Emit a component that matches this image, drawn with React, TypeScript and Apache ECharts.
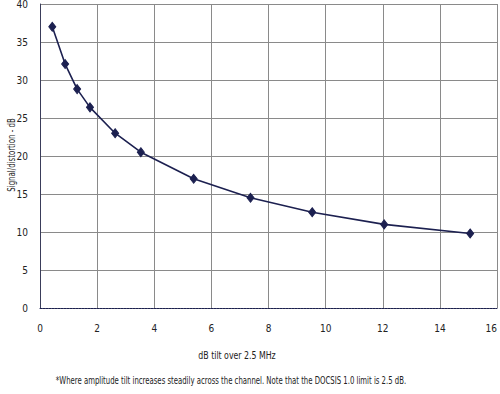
import React, { useEffect, useRef } from "react";
import * as echarts from "echarts";

const tiltDb = [0.43, 0.88, 1.3, 1.75, 2.63, 3.53, 5.38, 7.37, 9.53, 12.05, 15.06];
const signalDistortionDb = [37.0, 32.1, 28.8, 26.4, 23.0, 20.5, 17.0, 14.5, 12.6, 11.0, 9.8];
const yTicks = [0, 5, 10, 15, 20, 25, 30, 35, 40];
const xAxisTitle = "dB tilt over 2.5 MHz";
const yAxisTitle = "Signal/distortion - dB";
const footnote = "*Where amplitude tilt increases steadily across the channel. Note that the DOCSIS 1.0 limit is 2.5 dB.";

const FONT = "'Liberation Sans Narrow', 'DejaVu Sans Condensed', sans-serif";

export default function App() {
  const ref = useRef<HTMLDivElement>(null);
  useEffect(() => {
    if (!ref.current) return;
    const chart = echarts.init(ref.current, undefined, { renderer: "svg" });
    const data = tiltDb.map((x, i) => [x, signalDistortionDb[i]]);
    chart.setOption({
      animation: false,
      backgroundColor: "#ffffff",
      grid: { left: 40, right: 3, top: 4, bottom: 86, containLabel: false, outerBoundsMode: "none" },
      xAxis: {
        type: "value",
        min: 0,
        max: 16,
        interval: 2,
        axisLine: { show: true, onZero: false, lineStyle: { color: "#1c2050", type: [2, 1], width: 1 } },
        axisTick: { show: false },
        axisLabel: { fontFamily: FONT, fontSize: 10, color: "#222", margin: 15, alignMaxLabel: "right" },
        splitLine: { show: true, lineStyle: { color: "#8a8a8a", width: 1 } },
      },
      yAxis: {
        type: "value",
        min: yTicks[0],
        max: yTicks[yTicks.length - 1],
        interval: 5,
        axisLine: { show: true, lineStyle: { color: "#3a3d5a", width: 1 } },
        axisTick: { show: false },
        axisLabel: { fontFamily: FONT, fontSize: 10, color: "#222", margin: 12 },
        splitLine: { show: true, lineStyle: { color: "#8a8a8a", width: 1 } },
      },
      graphic: [
        {
          type: "text",
          x: 12,
          y: 155,
          rotation: Math.PI / 2,
          scaleX: 0.78,
          style: { text: yAxisTitle, fontFamily: FONT, fontSize: 10, fill: "#222", textAlign: "center", textVerticalAlign: "middle" },
        },
        {
          type: "text",
          x: 237,
          y: 355,
          scaleX: 0.87,
          style: { text: xAxisTitle, fontFamily: FONT, fontSize: 10, fill: "#222", textAlign: "center", textVerticalAlign: "middle" },
        },
        {
          type: "text",
          x: 231,
          y: 381,
          scaleX: 0.77,
          style: { text: footnote, fontFamily: FONT, fontSize: 10, fill: "#222", textAlign: "center", textVerticalAlign: "middle" },
        },
      ],
      series: [
        {
          type: "line",
          data,
          symbol: "diamond",
          symbolSize: [7, 9],
          lineStyle: { color: "#1c2050", width: 1.6 },
          itemStyle: { color: "#1c2050", borderColor: "#1c2050" },
        },
      ],
    });
    return () => chart.dispose();
  }, []);
  return <div ref={ref} style={{ position: "fixed", left: 0, top: 0, width: 500, height: 394 }} />;
}
